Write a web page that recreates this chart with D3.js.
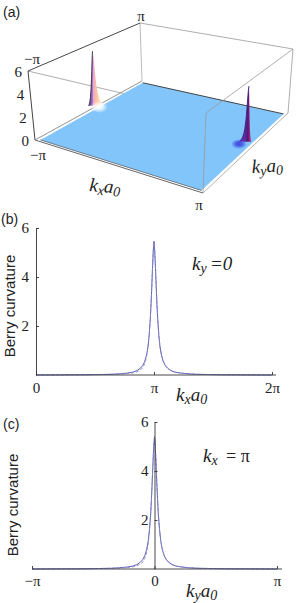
<!DOCTYPE html>
<html>
<head>
<meta charset="utf-8">
<script src="https://cdn.jsdelivr.net/npm/d3@7"></script>
<style>
  html, body { margin: 0; background: #fff; }
  text { fill: #222; }
  .serif { font-family: "Liberation Serif", serif; font-size: 15px; }
  .sans { font-family: "Liberation Sans", sans-serif; }
  .math { font-family: "Liberation Serif", serif; font-style: italic; font-size: 19px; }
  .sub { font-size: 14px; }
</style>
</head>
<body>
<svg id="chart" width="300" height="603"></svg>
<script>
const PI = Math.PI;

// distance from the peak centre and curvature there
const offsets = [-3.14, -2.4, -1.8, -1.4, -1.1, -0.9, -0.7, -0.55, -0.45, -0.36, -0.3, -0.25, -0.2, -0.16, -0.13, -0.1, -0.08, -0.06, -0.04, -0.02, 0,
  0.02, 0.04, 0.06, 0.08, 0.1, 0.13, 0.16, 0.2, 0.25, 0.3, 0.36, 0.45, 0.55, 0.7, 0.9, 1.1, 1.4, 1.8, 2.4, 3.14];
const berryB = [0, 0.005, 0.01, 0.02, 0.03, 0.05, 0.08, 0.12, 0.18, 0.28, 0.39, 0.54, 0.8, 1.15, 1.6, 2.25, 2.85, 3.55, 4.35, 5.05, 5.45,
  5.05, 4.35, 3.55, 2.85, 2.25, 1.6, 1.15, 0.8, 0.54, 0.39, 0.28, 0.18, 0.12, 0.08, 0.05, 0.03, 0.02, 0.01, 0.005, 0];
const berryBDash = [0, 0.005, 0.01, 0.02, 0.03, 0.04, 0.06, 0.09, 0.13, 0.2, 0.3, 0.44, 0.72, 1.12, 1.6, 2.25, 2.85, 3.55, 4.35, 5.05, 5.45,
  5.05, 4.35, 3.55, 2.85, 2.25, 1.6, 1.15, 0.8, 0.54, 0.39, 0.28, 0.18, 0.12, 0.08, 0.05, 0.03, 0.02, 0.01, 0.005, 0];
const berryC = [0, 0.005, 0.01, 0.02, 0.03, 0.05, 0.08, 0.12, 0.18, 0.28, 0.39, 0.54, 0.8, 1.15, 1.6, 2.2, 2.8, 3.5, 4.3, 5.0, 5.4,
  5.0, 4.3, 3.5, 2.8, 2.2, 1.6, 1.15, 0.8, 0.54, 0.39, 0.28, 0.18, 0.12, 0.08, 0.05, 0.03, 0.02, 0.01, 0.005, 0];
const berryCDash = [0, 0.005, 0.01, 0.02, 0.03, 0.04, 0.06, 0.09, 0.13, 0.2, 0.28, 0.42, 0.68, 1.05, 1.55, 2.2, 2.8, 3.5, 4.3, 5.0, 5.4,
  5.0, 4.3, 3.5, 2.8, 2.2, 1.6, 1.15, 0.8, 0.54, 0.39, 0.28, 0.18, 0.12, 0.08, 0.05, 0.03, 0.02, 0.01, 0.005, 0];

const zTicks = [0, 2, 4, 6];
const yTicks = [2, 4, 6];
const piTicksB = [0, PI, 2 * PI];
const piLabelsB = ["0", "π", "2π"];
const piTicksC = [-PI, 0, PI];
const piLabelsC = ["−π", "0", "π"];

const svg = d3.select("#chart");
const defs = svg.append("defs");

// ---------- panel (a), box drawn by mapping kx, ky, z onto its corners ----------
const unitK = d3.scaleLinear().domain([-PI, PI]).range([0, 1]);
const unitZ = d3.scaleLinear().domain([0, 6]).range([0, 1]);
const cornerX = { ll: [35, 28], lh: [142, 140], hl: [203, 206], hh: [288, 293] };
const cornerY = { ll: [140, 71], lh: [81, 23], hl: [193, 113], hh: [113, 49] };

function blend(c, kx, ky, z) {
  const u = unitK(kx), v = unitK(ky), w = unitZ(z);
  const at = a => a[0] + (a[1] - a[0]) * w;
  return (1 - u) * ((1 - v) * at(c.ll) + v * at(c.lh)) + u * ((1 - v) * at(c.hl) + v * at(c.hh));
}
const project = (kx, ky, z) => [blend(cornerX, kx, ky, z), blend(cornerY, kx, ky, z)];

const boxLine = d3.line();
const a = svg.append("g");

function edge(from, to, color, width) {
  a.append("path")
    .attr("d", boxLine([project(...from), project(...to)]))
    .attr("fill", "none")
    .attr("stroke", color)
    .attr("stroke-width", width);
}

// edges behind the floor
edge([-PI, PI, 0], [-PI, PI, 6], "#aaa", 0.8);
edge([-PI, -PI, 6], [PI, -PI, 6], "#999", 0.8);
edge([-PI, PI, 6], [PI, PI, 6], "#999", 0.8);
edge([PI, PI, 0], [PI, PI, 6], "#999", 0.8);
edge([-PI, -PI, 6], [-PI, PI, 6], "#333", 0.9);
edge([-PI, -PI, 0], [-PI, -PI, 6], "#444", 1);

const inset = 3.02;
a.append("path")
  .attr("d", boxLine([[-inset, -inset], [-inset, inset], [inset, inset], [inset, -inset]].map(k => project(k[0], k[1], 0))) + "Z")
  .attr("fill", "#82c5fb");

// floor rim and the bottom of the box
edge([-inset, inset, 0], [inset, inset, 0], "#444", 1);
edge([-inset, -inset, 0], [inset, -inset, 0], "#555", 0.7);
edge([-PI, -PI, 0], [PI, -PI, 0], "#666", 1);
edge([-PI, -PI, 0], [-PI, PI, 0], "#888", 0.9);
edge([PI, -PI, 0], [PI, PI, 0], "#aaa", 0.9);

function gradient(id, x1, x2, stops) {
  const g = defs.append("linearGradient")
    .attr("id", id)
    .attr("gradientUnits", "userSpaceOnUse")
    .attr("x1", x1).attr("x2", x2).attr("y1", 0).attr("y2", 0);
  stops.forEach(s => g.append("stop").attr("offset", s[0]).attr("stop-color", s[1]));
}

function glow(id, color) {
  const g = defs.append("radialGradient").attr("id", id);
  g.append("stop").attr("offset", 0).attr("stop-color", color).attr("stop-opacity", 1);
  g.append("stop").attr("offset", 0.45).attr("stop-color", color).attr("stop-opacity", 0.75);
  g.append("stop").attr("offset", 1).attr("stop-color", color).attr("stop-opacity", 0);
}

// the peak is one half of a spike seen on the box edge, each side stretches differently
function peak(baseX, baseY, leftStretch, rightStretch, pxPerUnit, fill, outline) {
  const pts = offsets
    .map((d, i) => [d, berryB[i]])
    .filter(p => Math.abs(p[0]) <= 0.3)
    .map(p => [baseX + p[0] * (p[0] < 0 ? leftStretch : rightStretch), baseY - p[1] * pxPerUnit]);
  a.append("path")
    .attr("d", d3.line()(pts) + "Z")
    .attr("fill", fill);
  a.append("path")
    .attr("d", d3.line()(pts.slice(0, Math.ceil(pts.length / 2))))
    .attr("fill", "none")
    .attr("stroke", outline)
    .attr("stroke-width", 0.9);
}

// peak at kx = -pi
glow("glowWhite", "#ffffff");
gradient("peakWarm", 90, 106, [[0, "#6a4a90"], [0.14, "#9a6cc0"], [0.22, "#e8a8e0"], [0.32, "#fbb9a0"], [0.55, "#fdd6b0"], [1, "#ffffff"]]);
peak(92.5, 110, 13, 40, 10.8, "url(#peakWarm)", "#3a3040");
a.append("ellipse").attr("cx", 99).attr("cy", 107).attr("rx", 9).attr("ry", 6).attr("fill", "url(#glowWhite)");

// peak at kx = pi
glow("glowBlue", "#3b45e0");
a.append("ellipse").attr("cx", 239).attr("cy", 144).attr("rx", 8).attr("ry", 5).attr("fill", "url(#glowBlue)");
gradient("peakDark", 240, 253, [[0, "#5a3ad0"], [0.4, "#5a2a9c"], [0.62, "#4a1a70"], [0.76, "#c02080"], [1, "#2a1030"]]);
peak(249, 146, 32, 7, 11, "url(#peakDark)", "#3a2080");

// edges in front of the peaks
edge([PI, -PI, 6], [PI, PI, 6], "#999", 0.8);
edge([PI, -PI, 0], [PI, -PI, 6], "#999", 0.8);

a.selectAll("text.z").data(zTicks).join("text")
  .attr("class", "z serif")
  .attr("text-anchor", "end")
  .attr("x", d => project(-PI, -PI, d)[0] - 6)
  .attr("y", d => project(-PI, -PI, d)[1] + 6)
  .text(d => d);

function label(x, y, str, cls, anchor) {
  return svg.append("text").attr("class", cls).attr("x", x).attr("y", y)
    .attr("text-anchor", anchor || "start").text(str);
}
label(3, 17, "(a)", "sans").attr("font-size", 14);
label(1, 224, "(b)", "sans").attr("font-size", 14);
label(3, 429, "(c)", "sans").attr("font-size", 14);

label(32, 64, "−π", "serif", "middle");
label(38, 160, "−π", "serif", "middle");
label(141, 21, "π", "serif", "middle");
label(199, 210, "π", "serif", "middle");

function kLabel(x, y, letter, rotate) {
  const t = svg.append("text").attr("class", "math")
    .attr("transform", `translate(${x},${y}) rotate(${rotate})`);
  t.append("tspan").text("k");
  t.append("tspan").attr("class", "sub").attr("dy", 3).text(letter);
  t.append("tspan").attr("dy", -3).text("a");
  t.append("tspan").attr("class", "sub").attr("dy", 3).text("0");
}
// k with its subscript only, for the labels that name a fixed value
function kOnly(x, y, letter) {
  const t = svg.append("text").attr("class", "math").attr("x", x).attr("y", y);
  t.append("tspan").text("k");
  t.append("tspan").attr("class", "sub").attr("dy", 3).text(letter);
}
kLabel(89, 191, "x", 5);
kLabel(252, 173, "y", -3);

// ---------- panels (b) and (c) ----------
function profile(g, x, y, centre, solid, dashed) {
  const line = d3.line().x((d, i) => x(centre + offsets[i])).y(d => y(d));
  g.append("path").attr("d", line(solid)).attr("fill", "none")
    .attr("stroke", "#5a5fc0").attr("stroke-width", 1);
  g.append("path").attr("d", line(dashed)).attr("fill", "none")
    .attr("stroke", "#8a8ab8").attr("stroke-width", 0.9).attr("stroke-dasharray", "3,2");
}

function styleAxis(g) {
  g.selectAll("path,line").attr("stroke", "#333").attr("stroke-width", 0.9);
  g.selectAll("text")
    .attr("fill", "#222")
    .attr("font-family", "Liberation Serif, serif")
    .attr("font-size", 15);
}

// panel (b)
const xB = d3.scaleLinear().domain([0, 2 * PI]).range([36, 272]);
const yB = d3.scaleLinear().domain([0, 6]).range([375, 228]);
const b = svg.append("g");
profile(b, xB, yB, PI, berryB, berryBDash);

b.append("g").attr("transform", "translate(0,375)")
  .call(d3.axisBottom(xB).tickValues(piTicksB).tickFormat((d, i) => piLabelsB[i]).tickSizeInner(-3).tickSizeOuter(0).tickPadding(7))
  .call(styleAxis)
  .call(g => g.select(".domain").attr("d", "M36,0H276"));
b.append("g").attr("transform", "translate(36,0)")
  .call(d3.axisLeft(yB).tickValues(yTicks).tickFormat(d3.format("d")).tickSizeInner(-3).tickSizeOuter(0).tickPadding(7))
  .call(styleAxis);

label(0, 0, "Berry curvature", "sans", "middle")
  .attr("font-size", 15)
  .attr("transform", "translate(15,306) rotate(-90)")
  .attr("x", null).attr("y", null);
kLabel(176, 401, "x", 0);
kOnly(192, 270, "y");
label(210, 270, "=0", "math");

// panel (c)
const xC = d3.scaleLinear().domain([-PI, PI]).range([32, 277]);
const yC = d3.scaleLinear().domain([0, 6]).range([569, 422]);
const c = svg.append("g");
profile(c, xC, yC, 0, berryC, berryCDash);

c.append("g").attr("transform", "translate(0,569)")
  .call(d3.axisBottom(xC).tickValues(piTicksC).tickFormat((d, i) => piLabelsC[i]).tickSizeInner(-3).tickSizeOuter(0).tickPadding(6))
  .call(styleAxis)
  .call(g => g.select(".domain").attr("d", "M32,0H282"));
c.append("g").attr("transform", `translate(${xC(0)},0)`)
  .call(d3.axisLeft(yC).tickValues(yTicks).tickFormat(d3.format("d")).tickSizeInner(-3).tickSizeOuter(0).tickPadding(6))
  .call(styleAxis);

label(0, 0, "Berry curvature", "sans", "middle")
  .attr("font-size", 15)
  .attr("transform", "translate(18,505) rotate(-90)")
  .attr("x", null).attr("y", null);
kLabel(186, 597, "y", 0);
kOnly(203, 462, "x");
label(226, 462, "= π", "serif").style("font-size", "18px");
</script>
</body>
</html>
